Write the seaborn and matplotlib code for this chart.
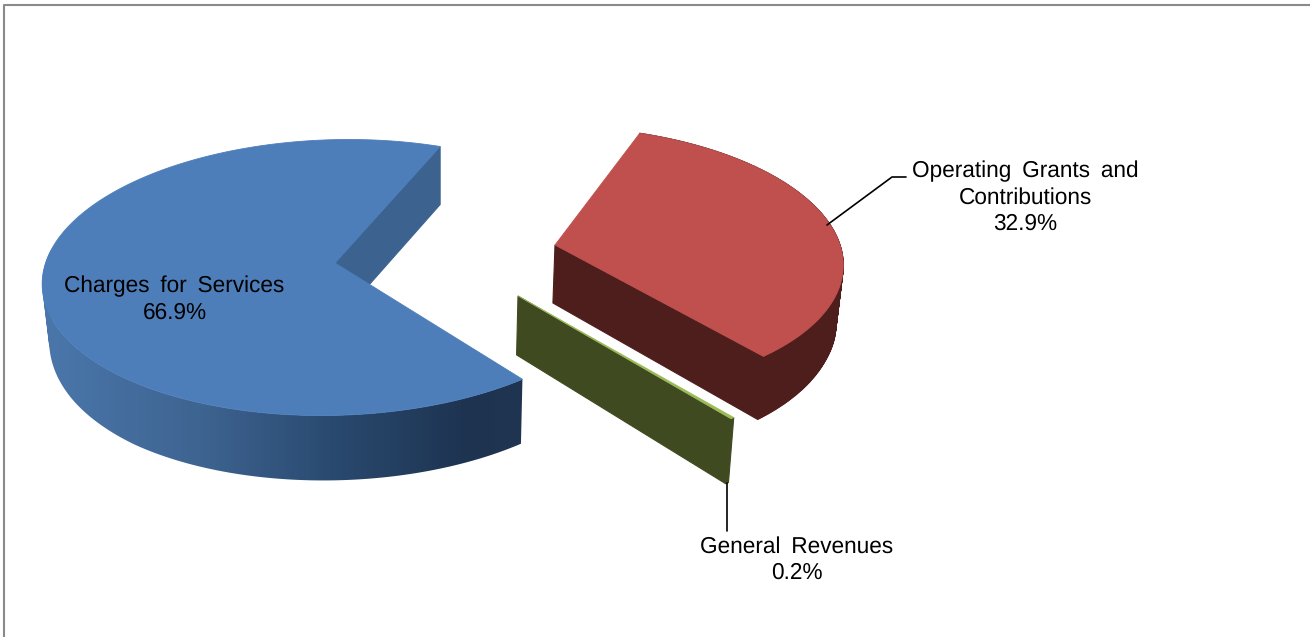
import numpy as np
import seaborn as sns
import matplotlib.pyplot as plt
from matplotlib.collections import PolyCollection
from matplotlib.colors import to_rgb
from matplotlib.patches import PathPatch, Polygon
from matplotlib.path import Path

# data
categories = ['Charges\u2009 for\u2009 Services', 'Operating\u2009 Grants\u2009 and\nContributions', 'General\u2009 Revenues']
shares = [66.9, 32.9, 0.2]

sns.set_theme(style="white")
plt.rcParams['font.family'] = ['Liberation Sans', 'DejaVu Sans']
plt.rcParams['text.hinting'] = 'no_hinting'

top_colors = sns.color_palette(["#4D7EBA", "#C0504D", "#9BBB59"])
wall_colors = ["#3C6390", "#4D1E1C", "#404A20"]

# one entry per slice: ellipse centre, radii, shear, pie apex (the 3d look needs its own per slice)
geom = [
    dict(cx=335, cy=277.5, a=292.5, b=138, k=-0.10, apex=(335, 263)),
    dict(cx=563, cy=259.5, a=280, b=133, k=0.09, apex=(555, 245)),
    dict(cx=543.5, cy=317, a=292.5, b=138, k=-0.10, apex=(518, 296)),
]
start_angle = 137.5


def rim(g, theta):
    t = np.radians(theta)
    dy = -g['b'] * np.cos(t)
    return g['cx'] + g['a'] * np.sin(t) + g['k'] * dy, g['cy'] + dy


def drop(x, y):
    # bottom of the pie: a little narrower, deeper towards the viewer
    depth = np.interp(y, [250, 300, 340, 380, 420], [58, 59, 62, 64.5, 65])
    return 440 + (x - 440) * 0.982, y + depth


def wall_quads(xs, ys, bx, by):
    # all quads wound the same way so their union fills without holes
    quads = []
    for j in range(len(xs) - 1):
        q = np.array([(xs[j], ys[j]), (xs[j + 1], ys[j + 1]), (bx[j + 1], by[j + 1]), (bx[j], by[j])])
        x, y = q[:, 0], q[:, 1]
        if np.dot(x, np.roll(y, -1)) - np.dot(y, np.roll(x, -1)) < 0:
            q = q[::-1]
        quads.append(q)
    return quads


fig = plt.figure(figsize=(13.1, 6.37), dpi=100)
ax = fig.add_axes([0, 0, 1, 1])
ax.set_xlim(0, 1310)
ax.set_ylim(637, 0)
ax.axis('off')

# chart border, only top and left are in the picture
ax.plot([3.5, 3.5, 1310], [637, 4.5, 4.5], color="#8A8A8A", lw=1.5)

# horizontal shading of the blue outer wall
stops_x = [50, 200, 330, 470, 522]
stops_c = np.array([to_rgb(c) for c in ["#4A76AA", "#3E6491", "#2A4A70", "#1D3350", "#1F3551"]])
grad_x = np.linspace(30, 540, 512)
grad = np.stack([np.interp(grad_x, stops_x, stops_c[:, c]) for c in range(3)], axis=-1)[np.newaxis, :, :]

angle = start_angle
for i, share in enumerate(shares):
    g = geom[i]
    t0, t1 = angle, angle + share * 3.6
    angle = t1
    theta = np.linspace(t0, t1, max(int(share * 8), 3))
    xs, ys = rim(g, theta)
    bx, by = drop(xs, ys)
    px, py = g['apex']
    pbx, pby = drop(np.array(px, float), np.array(py, float))

    # outer wall
    quads = wall_quads(xs, ys, bx, by)
    if i == 0:
        wall = PathPatch(Path.make_compound_path(*[Path(np.vstack([q, q[:1]]), closed=True) for q in quads]),
                         facecolor='none', edgecolor='none')
        ax.add_patch(wall)
        im = ax.imshow(grad, extent=[30, 540, 500, 250], aspect='auto', zorder=1)
        im.set_clip_path(wall)
        ax.set_xlim(0, 1310)
        ax.set_ylim(637, 0)
    else:
        ax.add_collection(PolyCollection(quads, facecolors=wall_colors[i], edgecolors=wall_colors[i],
                                         linewidths=0.8, zorder=1))

    # flat cut wall: far side of the big slice, near side of the other two
    wx, wy = xs[-1], ys[-1]
    wbx, wby = drop(wx, wy)
    ax.add_patch(Polygon([(px, py), (wx, wy), (wbx, wby), (pbx, pby)], closed=True,
                         facecolor=wall_colors[i], edgecolor=wall_colors[i], lw=0.8, zorder=2))

    # top face
    ax.add_patch(Polygon(list(zip(xs, ys)) + [(px, py)], closed=True,
                         facecolor=top_colors[i], edgecolor=top_colors[i], lw=0.6, zorder=3))

# leader lines
ax.plot([827, 892, 906], [225, 177, 177], color="black", lw=1.2, zorder=4)
ax.plot([727, 727], [483, 531], color="black", lw=1.2, zorder=4)

# labels
label_pos = [(174.5, 300), (1025, 197.5), (796.5, 560)]
for name, share, (lx, ly) in zip(categories, shares, label_pos):
    ax.text(lx, ly, f"{name}\n{share:.1f}%", ha='center', va='center',
            fontsize=16.3, color="black", linespacing=1.3, zorder=5)

fig.savefig("out.png", dpi=100)
